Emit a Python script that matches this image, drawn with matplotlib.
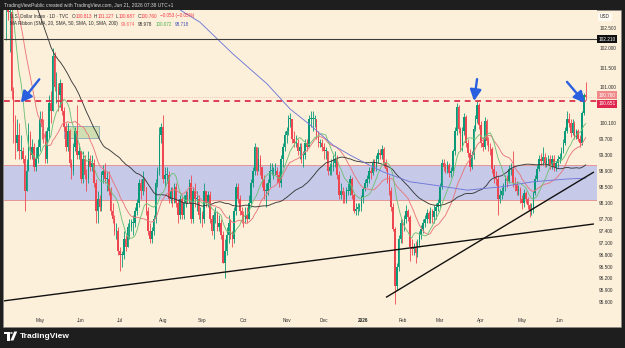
import matplotlib
matplotlib.use("Agg")
import matplotlib.pyplot as plt
from matplotlib.patches import Rectangle, Polygon, Circle
import numpy as np
import pandas as pd

plt.rcParams['font.family'] = ['Liberation Sans', 'DejaVu Sans']

W, H = 625, 348

# ---------------- data (DXY daily) ----------------
# closes before the first visible candle (only used to seed the moving averages)
prior_closes = [107.9, 108.0, 107.8, 108.4,
                108.9, 108.0, 107.6, 108.1, 108.0, 108.3, 107.9, 108.0, 107.3, 106.7,
                106.8, 107.1, 107.2, 106.4, 106.6, 106.6, 106.3, 106.4, 107.2, 107.6,
                106.7, 105.7, 104.3, 104.1, 103.8, 103.9, 103.4, 103.6, 103.8, 103.7,
                103.4, 103.3, 103.4, 103.8, 104.1, 104.3, 104.2, 104.6, 104.3, 104.0, 104.2,
                104.2, 103.8, 102.0, 103.0]

closes = [
    # Apr 2025
    103.3, 102.9, 102.9, 100.9, 100.1, 99.6, 99.8, 99.4, 99.4, 99.2, 98.4, 98.9, 99.8, 99.3, 99.5, 99.0, 99.2, 99.5,
    # May 2025
    100.2, 100.0, 99.8, 99.2, 99.9, 100.6, 100.4, 101.8, 101.0, 101.0, 100.8, 101.1, 100.4, 100.0, 99.5, 99.9, 99.1, 98.9, 99.5, 99.9, 99.3, 99.4,
    # Jun 2025
    98.7, 99.2, 98.8, 98.7, 99.2, 99.0, 99.1, 98.6, 97.9, 98.2, 98.0, 98.8, 98.9, 98.7, 98.7, 98.4, 97.9, 97.7, 97.4, 97.4, 96.9,
    # Jul 2025
    96.8, 96.8, 97.2, 97.0, 97.5, 97.5, 97.6, 97.6, 97.9, 98.1, 98.6, 98.4, 98.7, 98.5, 97.9, 97.4, 97.2, 97.4, 97.7, 98.6, 98.9, 99.8, 100.0,
    # Aug 2025
    98.7, 98.8, 98.8, 98.2, 98.4, 98.2, 98.5, 98.1, 97.8, 98.2, 97.8, 98.1, 98.3, 98.2, 98.6, 97.7, 98.4, 98.2, 98.2, 97.8, 97.8,
    # Sep 2025
    97.7, 98.4, 98.1, 98.3, 97.7, 97.4, 97.8, 97.8, 97.5, 97.6, 97.3, 96.6, 96.9, 97.3, 97.6, 97.3, 97.2, 97.9, 98.5, 98.2, 97.9, 97.8,
    # Oct 2025
    97.7, 97.8, 97.7, 98.1, 98.6, 98.9, 99.5, 98.9, 99.2, 99.0, 98.7, 98.4, 98.4, 98.6, 98.9, 98.9, 98.9, 98.9, 98.8, 98.6, 99.2, 99.5, 99.8,
    # Nov 2025
    99.9, 100.2, 100.2, 99.7, 99.6, 99.6, 99.4, 99.5, 99.2, 99.3, 99.6, 99.5, 100.2, 100.2, 100.2, 100.2, 99.8, 99.6, 99.6, 99.5,
    # Dec 2025
    99.4, 99.4, 98.9, 99.0, 99.0, 99.1, 99.2, 98.8, 98.3, 98.4, 98.3, 98.2, 98.4, 98.4, 98.7, 98.3, 97.9, 97.95, 98.0, 98.0, 98.25,
    # Jan 2026
    98.45, 98.6, 98.7, 98.9, 98.85, 99.1, 99.0, 99.2, 99.35, 99.3, 99.45, 99.1, 98.95, 98.7, 98.4, 98.0, 97.45, 96.0, 96.5, 97.2, 97.6,
    # Feb 2026
    97.55, 97.7, 97.9, 97.75, 97.0, 96.95, 97.0, 96.85, 97.1, 97.3, 97.45, 97.6, 97.7, 97.85, 97.7, 97.9, 97.75, 97.9, 98.0, 98.1,
    # Mar 2026
    98.5, 99.1, 99.0, 98.95, 99.05, 98.85, 98.9, 99.4, 99.9, 100.5, 99.95, 99.5, 99.9, 100.25, 99.6, 99.35, 99.0, 99.3, 99.95, 100.2, 100.55, 100.05,
    # Apr 2026
    99.6, 99.5, 100.15, 99.65, 99.5, 99.45, 98.95, 98.75, 98.7, 98.2, 98.3, 98.4, 98.5, 98.7, 98.65, 98.95, 98.95, 98.6, 98.55, 98.4, 98.45, 98.2,
    # May 2026
    98.1, 98.35, 98.2, 98.05, 97.9, 97.95, 98.35, 98.7, 98.95, 99.2, 99.15, 99.25, 99.1, 99.15, 99.2, 99.05, 99.2, 99.0, 99.1, 99.2,
    # Jun 2026
    99.25, 99.4, 99.6, 99.9, 100.2, 100.1, 99.85, 100.1, 99.75, 99.9, 99.7, 99.6, 100.35, 100.813, 100.76,
]

highs = [
    103.8, 103.4, 103.3, 103.0, 101.0, 100.3, 100.2, 100.1, 99.8, 99.5, 99.3, 99.2, 100.1, 99.9, 99.7, 99.6, 99.5, 99.7,
    100.4, 100.4, 100.2, 99.9, 100.0, 100.8, 100.9, 101.98, 101.9, 101.4, 101.1, 101.2, 101.1, 100.5, 100.1, 100.1, 99.95, 99.2, 99.6, 100.0, 100.55, 99.6,
    99.4, 99.4, 99.3, 98.95, 99.4, 99.3, 99.3, 99.2, 98.7, 98.4, 98.3, 98.9, 99.05, 99.1, 98.9, 98.9, 98.5, 98.1, 97.8, 97.6, 97.5,
    97.0, 96.9, 97.4, 97.3, 97.6, 97.7, 97.7, 97.8, 98.0, 98.2, 98.7, 98.7, 98.9, 98.7, 98.5, 98.0, 97.6, 97.5, 97.8, 98.7, 99.0, 100.0, 100.1,
    100.3, 99.0, 99.0, 98.9, 98.5, 98.5, 98.6, 98.6, 98.2, 98.3, 98.3, 98.3, 98.4, 98.4, 98.7, 98.8, 98.5, 98.6, 98.4, 98.3, 98.0,
    97.9, 98.6, 98.4, 98.4, 98.4, 97.8, 97.9, 98.0, 97.9, 97.8, 97.7, 97.4, 97.2, 97.5, 97.8, 97.7, 97.4, 98.0, 98.6, 98.6, 98.3, 98.0,
    97.9, 98.0, 98.0, 98.3, 98.7, 99.0, 99.6, 99.5, 99.5, 99.3, 99.0, 98.8, 98.6, 98.7, 99.1, 99.1, 99.0, 99.1, 99.0, 98.9, 99.3, 99.6, 99.9,
    100.0, 100.3, 100.36, 100.2, 99.9, 99.8, 99.7, 99.6, 99.6, 99.4, 99.7, 99.7, 100.3, 100.4, 100.4, 100.3, 100.2, 99.9, 99.7, 99.7,
    99.6, 99.5, 99.4, 99.1, 99.2, 99.3, 99.4, 99.3, 98.9, 98.6, 98.5, 98.4, 98.5, 98.6, 98.8, 98.75, 98.35, 98.1, 98.1, 98.1, 98.3,
    98.5, 98.7, 98.8, 99.0, 99.0, 99.2, 99.2, 99.3, 99.45, 99.45, 99.55, 99.5, 99.2, 99.0, 98.8, 98.5, 98.1, 97.5, 96.6, 97.3, 97.7,
    97.7, 97.8, 98.05, 97.95, 97.8, 97.2, 97.1, 97.15, 97.2, 97.4, 97.55, 97.7, 97.8, 97.95, 97.9, 98.0, 97.95, 98.05, 98.1, 98.2,
    98.6, 99.2, 99.2, 99.1, 99.15, 99.1, 99.0, 99.45, 100.0, 100.6, 100.55, 100.0, 100.0, 100.35, 100.3, 99.7, 99.45, 99.4, 100.05, 100.3, 100.65, 100.6,
    100.15, 99.75, 100.25, 100.2, 99.75, 99.6, 99.5, 99.05, 98.9, 98.8, 98.45, 98.5, 98.6, 98.8, 98.8, 99.05, 99.1, 99.4, 98.75, 98.65, 98.55, 98.5,
    98.3, 98.45, 98.4, 98.25, 98.1, 98.1, 98.4, 98.8, 99.05, 99.3, 99.35, 99.5, 99.35, 99.25, 99.3, 99.3, 99.3, 99.3, 99.15, 99.3,
    99.35, 99.5, 99.7, 100.0, 100.4, 100.35, 100.2, 100.2, 100.15, 99.95, 99.95, 99.8, 100.4, 100.85, 101.127,
]

lows = [
    102.2, 102.7, 101.9, 100.7, 99.6, 99.2, 99.4, 99.2, 99.2, 99.1, 97.9, 98.4, 98.9, 99.2, 99.2, 98.9, 98.9, 99.1,
    99.4, 99.7, 99.6, 99.1, 99.1, 99.7, 100.1, 100.4, 100.9, 100.6, 100.4, 100.5, 100.3, 99.9, 99.4, 99.4, 99.0, 98.7, 98.8, 99.4, 99.2, 99.2,
    98.6, 98.6, 98.7, 98.4, 98.6, 98.9, 98.9, 98.5, 97.6, 97.6, 97.9, 97.9, 98.6, 98.6, 98.4, 98.3, 97.8, 97.6, 97.3, 97.2, 96.8,
    96.4, 96.5, 96.7, 96.9, 97.0, 97.2, 97.4, 97.3, 97.5, 97.8, 98.0, 98.2, 98.3, 98.4, 97.8, 97.3, 97.1, 97.1, 97.3, 97.6, 98.5, 98.8, 99.6,
    98.6, 98.5, 98.6, 98.1, 98.1, 98.0, 98.1, 98.0, 97.6, 97.7, 97.7, 97.7, 98.0, 98.1, 98.1, 97.6, 97.6, 98.0, 97.9, 97.7, 97.6,
    97.5, 97.6, 98.0, 98.0, 97.6, 97.3, 97.2, 97.6, 97.4, 97.4, 97.2, 96.6, 96.2, 96.8, 97.1, 97.2, 97.0, 97.1, 97.8, 98.1, 97.8, 97.6,
    97.5, 97.6, 97.6, 97.7, 98.0, 98.5, 98.8, 98.8, 98.9, 98.8, 98.5, 98.2, 98.0, 98.3, 98.5, 98.8, 98.7, 98.8, 98.6, 98.5, 98.5, 99.0, 99.4,
    99.6, 99.8, 100.0, 99.6, 99.5, 99.5, 99.3, 99.2, 99.1, 99.0, 99.2, 99.4, 99.5, 100.0, 99.9, 100.0, 99.7, 99.5, 99.5, 99.4,
    99.2, 99.2, 98.8, 98.8, 98.8, 98.9, 99.0, 98.7, 98.2, 98.2, 98.1, 98.1, 98.1, 98.3, 98.3, 98.2, 97.85, 97.8, 97.8, 97.9, 97.9,
    98.1, 98.4, 98.5, 98.6, 98.7, 98.8, 98.9, 98.9, 99.1, 99.2, 99.2, 99.0, 98.9, 98.6, 98.3, 97.9, 97.4, 95.55, 95.9, 96.4, 97.1,
    97.1, 97.4, 97.6, 97.65, 96.65, 96.8, 96.8, 96.6, 96.75, 97.0, 97.2, 97.35, 97.5, 97.6, 97.6, 97.6, 97.6, 97.6, 97.7, 97.9,
    98.0, 98.45, 98.9, 98.85, 98.85, 98.75, 98.75, 98.8, 99.3, 99.8, 99.85, 99.4, 99.4, 99.8, 99.5, 99.25, 98.9, 98.95, 99.2, 99.9, 100.1, 99.95,
    99.5, 99.4, 99.45, 99.55, 99.4, 99.3, 98.85, 98.6, 98.55, 97.8, 98.1, 98.2, 98.3, 98.4, 98.5, 98.6, 98.8, 98.5, 98.4, 98.3, 98.3, 98.1,
    97.95, 98.0, 98.1, 97.95, 97.75, 97.8, 97.85, 98.3, 98.65, 98.9, 99.05, 99.05, 99.0, 99.0, 99.05, 98.95, 98.95, 98.9, 98.9, 99.0,
    99.1, 99.2, 99.35, 99.55, 99.85, 100.0, 99.75, 99.8, 99.7, 99.7, 99.65, 99.5, 99.55, 100.3, 100.687,
]

month_idx = [18, 40, 61, 84, 105, 127, 150, 170, 191, 212, 232, 254, 276, 296]
month_labels = ["May", "Jun", "Jul", "Aug", "Sep", "Oct", "Nov", "Dec", "2026",
                "Feb", "Mar", "Apr", "May", "Jun"]

price_ticks = [95.6, 95.9, 96.2, 96.5, 96.8, 97.1, 97.4, 97.7, 98.1, 98.5, 98.9,
               99.3, 99.7, 100.1, 101.0, 101.5, 102.0, 102.5]

# 200-day SMA (index, value)
sma200_idx = [80, 94.7, 103.7, 121.4, 139.6, 151.9, 162.6, 174.9, 184, 193, 201.6,
              216, 228.3, 246.5, 264.2, 281.8, 300, 310]
sma200_val = [103.37, 102.90, 102.64, 101.84, 101.09, 100.46, 100.06, 99.55, 99.30,
              99.08, 98.88, 98.63, 98.55, 98.42, 98.50, 98.63, 98.70, 98.72]
ma_legend = [99.674, 98.978, 100.072, 98.718]   # SMA20, SMA50, SMA10, SMA200

resistance = 100.651
top_level = 102.21
zone_lo, zone_hi = 98.17, 99.05
green_box = (31.2, 49.7, 99.74, 100.04)
trend1 = ((-1.6, 95.635), (314.4, 97.57))
trend2 = ((203.2, 95.725), (314.4, 98.876))
arrows = [((17.8, 101.205), (7.86, 100.617)),
          ((251.9, 101.21), (250.3, 100.66)),
          ((300.0, 101.14), (309.6, 100.61))]

# ---------------- styling ----------------
BG = '#fdf0da'
DARKBG = '#1e1e1e'
UP = '#089a78'
DOWN = '#ee4650'
BLUE = '#2a5fe0'
TXT = '#2b2b2b'

c = np.array(closes, float)
o = np.r_[prior_closes[-1], c[:-1]]
hi = np.maximum(np.array(highs, float), np.maximum(o, c))
lo = np.minimum(np.array(lows, float), np.minimum(o, c))
idx = np.arange(len(c))

full = pd.Series(list(prior_closes) + list(closes), dtype=float)
np_ = len(prior_closes)
sma10 = full.rolling(10).mean().values[np_:]
sma20 = full.rolling(20).mean().values[np_:]
sma50 = full.rolling(50).mean().values[np_:]

fig = plt.figure(figsize=(W / 100, H / 100), dpi=100)
fig.patch.set_facecolor(DARKBG)


def fx(px):
    return px / W


def fy(py):
    return 1 - py / H


# chart panel background
fig.add_artist(Rectangle((fx(3), fy(327)), (621 - 3) / W, (327 - 10) / H,
                         transform=fig.transFigure, facecolor=BG,
                         edgecolor='#8a8a8a', lw=0.4, zorder=0))

ax = fig.add_axes([fx(4), fy(314), 593 / W, 304 / H])
ax.set_facecolor(BG)
for s in ax.spines.values():
    s.set_visible(False)
ax.set_xlim(-1.07, 316.04)
ax.set_ylim(95.308, 102.946)

# support zone
ax.axhspan(zone_lo, zone_hi, facecolor='#c6c9e8', edgecolor='none', zorder=1)
ax.axhline(zone_hi, color='#e59696', lw=0.7, zorder=1.1)
ax.axhline(zone_lo, color='#e59696', lw=0.7, zorder=1.1)

# small green box
gx0, gx1, gy0, gy1 = green_box
ax.add_patch(Rectangle((gx0, gy0), gx1 - gx0, gy1 - gy0, facecolor='#cfdfb2',
                       edgecolor='#8aa6b8', lw=0.6, zorder=1.2))

# candles
up = c >= o
cols = np.where(up, UP, DOWN)
ax.vlines(idx, lo, hi, colors=cols, lw=0.6, zorder=3)
body_h = np.maximum(np.abs(c - o), 0.02)
ax.bar(idx, body_h, bottom=np.minimum(o, c), width=0.8, color=cols,
       linewidth=0, zorder=3.2)

# moving averages
ax.plot(idx, sma20, color='#e8787c', lw=0.65, zorder=4)
ax.plot(idx, sma50, color='#3a3a3a', lw=0.65, zorder=4)
ax.plot(idx, sma10, color='#72c07a', lw=0.65, zorder=4)
ax.plot(sma200_idx, sma200_val, color='#6f78d8', lw=0.65, zorder=4)

# horizontal levels
ax.axhline(top_level, color='#3c3c3c', lw=0.8, zorder=5)
ax.axhline(resistance, color='#dc3049', lw=1.3, ls=(0, (3.2, 2.6)), zorder=5)
ax.axhline(c[-1], color='#e8a0a0', lw=0.5, ls=(0, (1, 1.6)), zorder=2)

# trend lines
for (x0, y0), (x1, y1) in (trend1, trend2):
    ax.plot([x0, x1], [y0, y1], color='#111111', lw=1.0, zorder=5,
            solid_capstyle='butt')

# arrows
for tail, tip in arrows:
    ax.annotate('', xy=tip, xytext=tail,
                arrowprops=dict(arrowstyle='-|>,head_length=0.55,head_width=0.28',
                                color=BLUE, lw=1.7, shrinkA=0, shrinkB=0,
                                mutation_scale=12), zorder=6)

# x axis (months)
ax.set_xticks(month_idx)
ax.set_xticklabels(month_labels)
ax.tick_params(axis='x', length=0, pad=2.6, labelsize=3.4, labelcolor=TXT)
for t in ax.get_xticklabels():
    if t.get_text() == '2026':
        t.set_fontweight('bold')

# y axis (price, right)
ax.yaxis.tick_right()
ax.set_yticks(price_ticks)
ax.set_yticklabels([f"{v:.3f}" for v in price_ticks])
ax.tick_params(axis='y', length=0, pad=1.6, labelsize=3.4, labelcolor=TXT)

# price label boxes on the axis
def axis_box(val, fc, dy_pts):
    ax.annotate(f"{val:.3f}", xy=(1.0, val), xycoords=ax.get_yaxis_transform(),
                xytext=(1.0, dy_pts), textcoords='offset points', ha='left',
                va='center', fontsize=3.4, color='white', zorder=10,
                annotation_clip=False,
                bbox=dict(boxstyle='square,pad=0.32', fc=fc, ec='none'))

axis_box(top_level, '#111111', 0)
axis_box(c[-1], '#f08a8a', 1.3)
axis_box(resistance, '#e0264f', -1.9)

fig.text(fx(600), fy(17), 'USD', fontsize=3.4, color=TXT, va='center', ha='left',
         bbox=dict(boxstyle='square,pad=0.35', fc='#fffaf2', ec='none'))

# header line
fig.text(fx(4), fy(5), 'TradingViewPublic created with TradingView.com, Jun 21, 2026 07:38 UTC+1',
         fontsize=3.5, color='#d6d6d6', va='center', ha='left')

renderer = fig.canvas.get_renderer()


def rich(x, y, pieces, fs):
    cur = x
    for text, col, gap in pieces:
        cur += gap
        t = fig.text(fx(cur), fy(y), text, fontsize=fs, color=col, va='center',
                     ha='left', zorder=20)
        bb = t.get_window_extent(renderer=renderer)
        cur = bb.x1


chg = c[-1] - o[-1]
pct = chg / o[-1] * 100
RED = '#f23645'
rich(10, 16, [("U.S. Dollar Index \u00b7 1D \u00b7 TVC", TXT, 0),
              ("O", TXT, 3), (f"{o[-1]:.3f}", RED, 0.3),
              ("H", TXT, 2), (f"{hi[-1]:.3f}", RED, 0.3),
              ("L", TXT, 2), (f"{lo[-1]:.3f}", RED, 0.3),
              ("C", TXT, 2), (f"{c[-1]:.3f}", RED, 0.3),
              (f"\u2212{abs(chg):.3f} (\u2212{abs(pct):.2f}%)", RED, 2)], 3.3)
rich(10, 24, [("MA Ribbon (SMA, 20, SMA, 50, SMA, 10, SMA, 200)", TXT, 0),
              (f"{ma_legend[0]:.3f}", '#f06262', 3),
              (f"{ma_legend[1]:.3f}", TXT, 3),
              (f"{ma_legend[2]:.3f}", '#4caf50', 3),
              (f"{ma_legend[3]:.3f}", '#3f51b5', 3)], 3.3)

# TradingView footer logo
def P(pts):
    return [(fx(a), fy(b)) for a, b in pts]

fig.add_artist(Polygon(P([(4, 331.5), (9.6, 331.5), (9.6, 340.5), (7.0, 340.5),
                          (7.0, 334.2), (4, 334.2)]), closed=True,
                       transform=fig.transFigure, fc='white', ec='none'))
fig.add_artist(Circle((fx(11.4), fy(333.0)), 1.35 / W, transform=fig.transFigure,
                      fc='white', ec='none'))
fig.add_artist(Polygon(P([(14.2, 331.5), (17.2, 331.5), (13.4, 340.5), (10.4, 340.5)]),
                       closed=True, transform=fig.transFigure, fc='white', ec='none'))
fig.text(fx(19.5), fy(336), 'TradingView', fontsize=6.0, color='white',
         fontweight='bold', va='center', ha='left')

fig.savefig('out.png', dpi=100, facecolor=fig.get_facecolor())
